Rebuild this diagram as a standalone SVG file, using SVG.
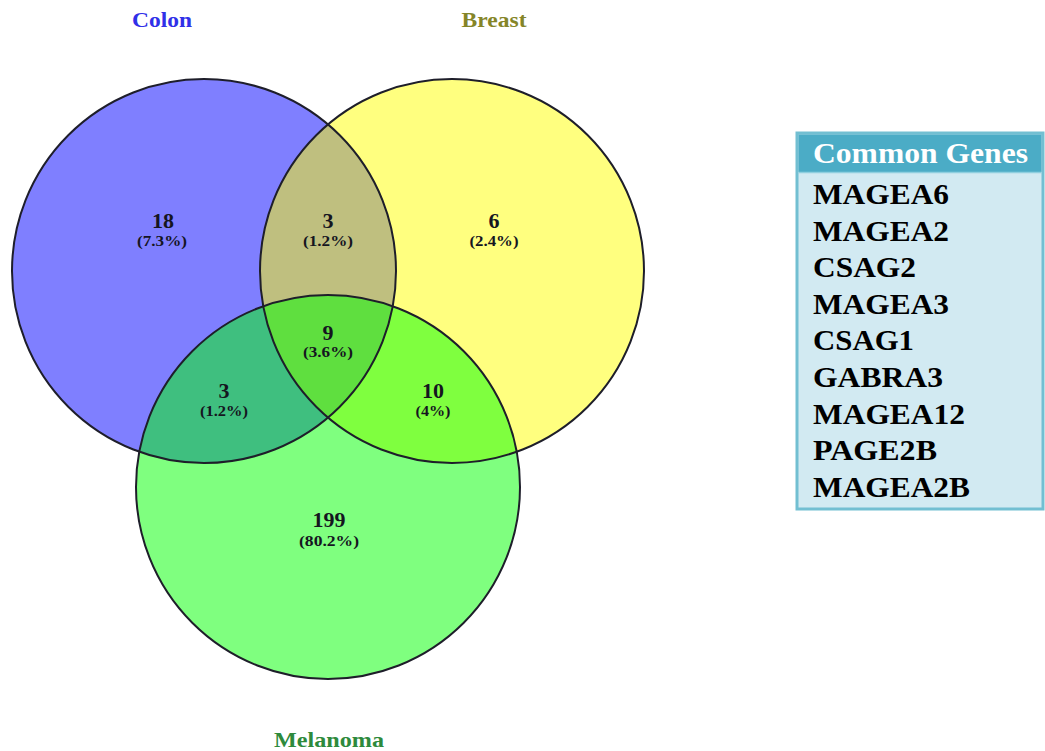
<svg xmlns="http://www.w3.org/2000/svg" width="1045" height="751" viewBox="0 0 1045 751">
<style>
.set{stroke:none;fill-opacity:0.5}
.ring{fill:none;stroke:#1e1e2a;stroke-width:2}
.lbl{font-family:"Liberation Serif","Times New Roman",serif;font-weight:bold;font-size:22px;text-anchor:middle}
.num{font-family:"Liberation Serif","Times New Roman",serif;font-weight:bold;font-size:22px;text-anchor:middle;fill:#15151f}
.pct{font-family:"Liberation Serif","Times New Roman",serif;font-weight:bold;font-size:15px;text-anchor:middle;fill:#15151f}
.gene{font-family:"Liberation Serif","Times New Roman",serif;font-weight:bold;font-size:30px;fill:#000}
.hdr{font-family:"Liberation Serif","Times New Roman",serif;font-weight:bold;font-size:30px;fill:#fff}
</style>
<rect width="1045" height="751" fill="#fff"/>
<g id="colon">
<circle class="set" cx="204" cy="271" r="192" fill="#0000ff"/>
</g>
<g id="breast">
<circle class="set" cx="452" cy="271" r="192" fill="#ffff00"/>
</g>
<g id="melanoma">
<circle class="set" cx="328" cy="487" r="192" fill="#00ff00"/>
</g>
<g id="outlines">
<circle class="ring" cx="204" cy="271" r="192"/>
<circle class="ring" cx="452" cy="271" r="192"/>
<circle class="ring" cx="328" cy="487" r="192"/>
</g>
<g id="labels">
<text class="lbl" x="162" y="27" fill="#3030e8" textLength="60" lengthAdjust="spacingAndGlyphs">Colon</text>
<text class="lbl" x="494" y="27" fill="#858528" textLength="65" lengthAdjust="spacingAndGlyphs">Breast</text>
<text class="lbl" x="329" y="747" fill="#2e8a3c" textLength="110" lengthAdjust="spacingAndGlyphs">Melanoma</text>
</g>
<g id="counts">
<text class="num" x="163" y="228">18</text>
<text class="pct" x="162" y="246" textLength="50" lengthAdjust="spacingAndGlyphs">(7.3%)</text>
<text class="num" x="328" y="228">3</text>
<text class="pct" x="328" y="246" textLength="50" lengthAdjust="spacingAndGlyphs">(1.2%)</text>
<text class="num" x="494" y="228">6</text>
<text class="pct" x="494" y="246" textLength="49" lengthAdjust="spacingAndGlyphs">(2.4%)</text>
<text class="num" x="328" y="340">9</text>
<text class="pct" x="328" y="357" textLength="50" lengthAdjust="spacingAndGlyphs">(3.6%)</text>
<text class="num" x="224" y="398">3</text>
<text class="pct" x="224" y="416" textLength="48" lengthAdjust="spacingAndGlyphs">(1.2%)</text>
<text class="num" x="433" y="398">10</text>
<text class="pct" x="433" y="416" textLength="35" lengthAdjust="spacingAndGlyphs">(4%)</text>
<text class="num" x="329" y="527">199</text>
<text class="pct" x="329" y="546" textLength="60" lengthAdjust="spacingAndGlyphs">(80.2%)</text>
</g>
<g id="common-genes">
<rect x="797" y="133" width="246" height="376" fill="#d2eaf2" stroke="#72bfd2" stroke-width="3"/>
<rect x="798.5" y="134.5" width="243" height="37.5" fill="#4bacc6"/>
<line x1="798.5" y1="172.5" x2="1041.5" y2="172.5" stroke="#8fcfdf" stroke-width="1.5"/>
<text class="hdr" x="813" y="163" textLength="215" lengthAdjust="spacingAndGlyphs">Common Genes</text>
<text class="gene" x="813" y="204" textLength="136" lengthAdjust="spacingAndGlyphs">MAGEA6</text>
<text class="gene" x="813" y="240.6" textLength="136" lengthAdjust="spacingAndGlyphs">MAGEA2</text>
<text class="gene" x="813" y="277.2" textLength="103" lengthAdjust="spacingAndGlyphs">CSAG2</text>
<text class="gene" x="813" y="313.8" textLength="136" lengthAdjust="spacingAndGlyphs">MAGEA3</text>
<text class="gene" x="813" y="350.4" textLength="101" lengthAdjust="spacingAndGlyphs">CSAG1</text>
<text class="gene" x="813" y="387" textLength="130" lengthAdjust="spacingAndGlyphs">GABRA3</text>
<text class="gene" x="813" y="423.6" textLength="152" lengthAdjust="spacingAndGlyphs">MAGEA12</text>
<text class="gene" x="813" y="460.2" textLength="124" lengthAdjust="spacingAndGlyphs">PAGE2B</text>
<text class="gene" x="813" y="496.8" textLength="157" lengthAdjust="spacingAndGlyphs">MAGEA2B</text>
</g>
</svg>
